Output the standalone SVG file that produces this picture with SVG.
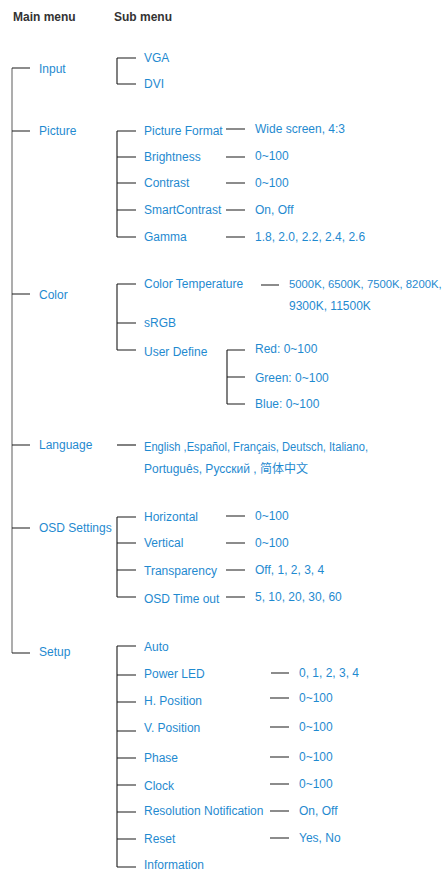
<svg xmlns="http://www.w3.org/2000/svg" width="447" height="871" viewBox="0 0 447 871">
<style>
text{font-family:"Liberation Sans",Arial,sans-serif;font-size:12px;fill:#1f8ad0}
.hd{font-weight:bold;fill:#333}
.ln{stroke:#1a1a1a;stroke-width:1.1;fill:none}
.main{stroke:#8a8a8a;stroke-width:1.4;fill:none}
</style>
<rect width="447" height="871" fill="#fff"/>
<g id="headers">
<text class="hd" x="13" y="21">Main menu</text>
<text class="hd" x="114" y="21">Sub menu</text>
</g>
<g id="connectors">
<path class="main" d="M12 68V653"/>
<path class="ln" d="M12 68H30M12 131H30M12 294H30M12 445H30M12 528H30M12 653H30"/>
<path class="ln" d="M117 58V84M117 58H136M117 84H136"/>
<path class="ln" d="M117 131V237M117 131H136M117 157H136M117 183H136M117 210H136M117 237H136"/>
<path class="ln" d="M226 129H245M226 157H245M226 183H245M226 210H245M226 237H245"/>
<path class="ln" d="M117 284V350M117 284H136M117 323H136M117 350H136M261 285H279"/>
<path class="ln" d="M227 350V404M227 350H245M227 377H245M227 404H245"/>
<path class="ln" d="M117 445H136"/>
<path class="ln" d="M117 517V597M117 517H136M117 543H136M117 570H136M117 597H136"/>
<path class="ln" d="M226 516H245M226 543H245M226 570H245M226 597H245"/>
<path class="ln" d="M117 646V867M117 646H136M117 675H136M117 702H136M117 731H136M117 758H136M117 785H136M117 812H136M117 839H136M117 867H136"/>
<path class="ln" d="M271 673H289M270 698H289M270 727H289M270 757H289M270 784H289M270 811H289M270 838H289"/>
</g>
<g id="input">
<text x="39" y="73">Input</text>
<text x="144" y="62">VGA</text>
<text x="144" y="88">DVI</text>
</g>
<g id="picture">
<text x="39" y="135">Picture</text>
<text x="144" y="135">Picture Format</text>
<text x="144" y="161">Brightness</text>
<text x="144" y="187">Contrast</text>
<text x="144" y="214">SmartContrast</text>
<text x="144" y="241">Gamma</text>
<text x="255" y="133">Wide screen, 4:3</text>
<text x="255" y="160">0~100</text>
<text x="255" y="187">0~100</text>
<text x="255" y="214">On, Off</text>
<text x="255" y="241">1.8, 2.0, 2.2, 2.4, 2.6</text>
</g>
<g id="color">
<text x="39" y="299">Color</text>
<text x="144" y="288">Color Temperature</text>
<text x="144" y="327">sRGB</text>
<text x="144" y="356">User Define</text>
<text x="289" y="288" style="font-size:11.3px">5000K, 6500K, 7500K, 8200K,</text>
<text x="289" y="310">9300K, 11500K</text>
<text x="255" y="353">Red: 0~100</text>
<text x="255" y="382">Green: 0~100</text>
<text x="255" y="408">Blue: 0~100</text>
</g>
<g id="language">
<text x="39" y="449">Language</text>
<text x="144" y="451" textLength="224" lengthAdjust="spacingAndGlyphs">English ,Español, Français, Deutsch, Italiano,</text>
<text x="144" y="473" style="font-family:'Liberation Sans','Noto Sans CJK SC',sans-serif">Português, Русский , 简体中文</text>
</g>
<g id="osd">
<text x="39" y="532">OSD Settings</text>
<text x="144" y="521">Horizontal</text>
<text x="144" y="547">Vertical</text>
<text x="144" y="575">Transparency</text>
<text x="144" y="603">OSD Time out</text>
<text x="255" y="520">0~100</text>
<text x="255" y="547">0~100</text>
<text x="255" y="574">Off, 1, 2, 3, 4</text>
<text x="255" y="601">5, 10, 20, 30, 60</text>
</g>
<g id="setup">
<text x="39" y="656">Setup</text>
<text x="144" y="651">Auto</text>
<text x="144" y="678">Power LED</text>
<text x="144" y="705">H. Position</text>
<text x="144" y="732">V. Position</text>
<text x="144" y="762">Phase</text>
<text x="144" y="790">Clock</text>
<text x="144" y="815">Resolution Notification</text>
<text x="144" y="843">Reset</text>
<text x="144" y="869">Information</text>
<text x="299" y="677">0, 1, 2, 3, 4</text>
<text x="299" y="702">0~100</text>
<text x="299" y="731">0~100</text>
<text x="299" y="761">0~100</text>
<text x="299" y="788">0~100</text>
<text x="299" y="815">On, Off</text>
<text x="299" y="842">Yes, No</text>
</g>
</svg>
